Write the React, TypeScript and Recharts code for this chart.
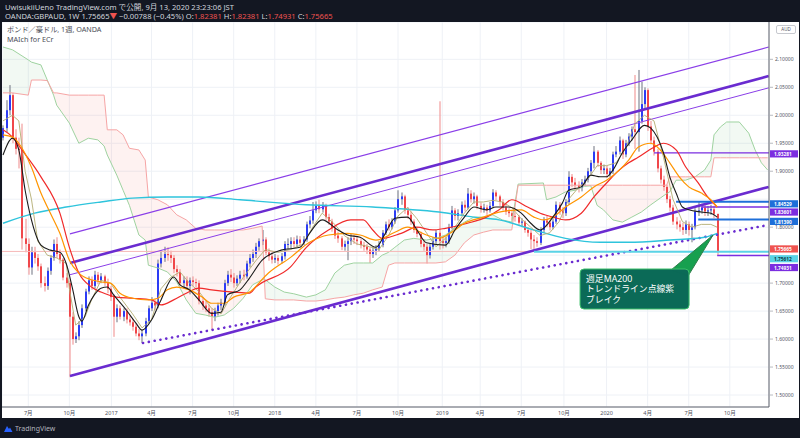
import React from 'react'
import {
  ComposedChart,
  Bar,
  Line,
  Area,
  XAxis,
  YAxis,
  CartesianGrid,
  ReferenceLine,
  ReferenceDot,
} from 'recharts'

// weekly GBPAUD candles, week 0 = 2016-05-09
const firstOpen = 1.96
const closes = [
  1.977, 2.009, 2.036, 1.96, 1.94, 1.938, 1.78, 1.77, 1.728, 1.755,
  1.745, 1.73, 1.7, 1.695, 1.722, 1.745, 1.77, 1.752, 1.742, 1.71,
  1.7, 1.64, 1.6, 1.605, 1.625, 1.655, 1.685, 1.705, 1.695, 1.715,
  1.705, 1.712, 1.7, 1.69, 1.675, 1.64, 1.655, 1.64, 1.65, 1.635,
  1.63, 1.622, 1.61, 1.605, 1.61, 1.632, 1.655, 1.665, 1.66, 1.735,
  1.745, 1.752, 1.75, 1.745, 1.725, 1.72, 1.7, 1.705, 1.695, 1.705,
  1.702, 1.7, 1.668, 1.66, 1.655, 1.648, 1.64, 1.65, 1.66, 1.665,
  1.7, 1.715, 1.71, 1.7, 1.708, 1.715, 1.712, 1.735, 1.745, 1.752,
  1.765, 1.775, 1.778, 1.755, 1.748, 1.742, 1.745, 1.74, 1.748, 1.77,
  1.77, 1.775, 1.77, 1.778, 1.772, 1.778, 1.805, 1.812, 1.83, 1.838,
  1.832, 1.838, 1.818, 1.81, 1.798, 1.785, 1.78, 1.765, 1.77, 1.775,
  1.78, 1.778, 1.775, 1.768, 1.765, 1.76, 1.752, 1.758, 1.762, 1.768,
  1.79, 1.805, 1.8, 1.81, 1.83, 1.85, 1.855, 1.83, 1.822, 1.81,
  1.795, 1.788, 1.77, 1.765, 1.75, 1.765, 1.775, 1.79, 1.775, 1.772,
  1.775, 1.8, 1.83, 1.82, 1.825, 1.84, 1.835, 1.86, 1.85, 1.855,
  1.838, 1.832, 1.835, 1.83, 1.838, 1.862, 1.855, 1.845, 1.835, 1.828,
  1.825, 1.82, 1.818, 1.808, 1.81, 1.795, 1.79, 1.778, 1.775, 1.772,
  1.795, 1.812, 1.808, 1.8, 1.81, 1.84, 1.83, 1.825, 1.845, 1.89,
  1.88, 1.875, 1.87, 1.88, 1.885, 1.9, 1.915, 1.935, 1.915, 1.902,
  1.905, 1.895, 1.9, 1.93, 1.935, 1.955, 1.93, 1.95, 1.962, 1.975,
  1.97, 1.99, 2.02, 2.045, 1.98, 1.955, 1.935, 1.905, 1.885, 1.872,
  1.85, 1.835, 1.81, 1.805, 1.8, 1.795, 1.805, 1.795, 1.8, 1.828,
  1.83, 1.835, 1.828, 1.83, 1.832, 1.82381, 1.75665,
]
const highs = [
  1.982, 2.027, 2.054, 2.04, 1.975, 1.96, 1.985, 1.815, 1.78, 1.765,
  1.765, 1.752, 1.735, 1.712, 1.728, 1.75, 1.778, 1.782, 1.76, 1.745,
  1.718, 1.705, 1.648, 1.612, 1.632, 1.662, 1.69, 1.712, 1.712, 1.722,
  1.72, 1.718, 1.715, 1.708, 1.695, 1.68, 1.662, 1.66, 1.655, 1.655,
  1.642, 1.636, 1.628, 1.618, 1.616, 1.638, 1.66, 1.675, 1.672, 1.742,
  1.759, 1.765, 1.764, 1.758, 1.75, 1.732, 1.725, 1.712, 1.712, 1.71,
  1.712, 1.708, 1.705, 1.675, 1.668, 1.662, 1.655, 1.656, 1.665, 1.672,
  1.706, 1.722, 1.725, 1.718, 1.714, 1.722, 1.724, 1.74, 1.752, 1.76,
  1.772, 1.78, 1.795, 1.782, 1.762, 1.755, 1.752, 1.75, 1.754, 1.775,
  1.78, 1.782, 1.782, 1.785, 1.784, 1.784, 1.81, 1.82, 1.845, 1.846,
  1.849, 1.845, 1.842, 1.824, 1.815, 1.802, 1.792, 1.784, 1.776, 1.782,
  1.788, 1.786, 1.784, 1.78, 1.774, 1.77, 1.764, 1.764, 1.768, 1.775,
  1.795, 1.81, 1.814, 1.816, 1.836, 1.866, 1.862, 1.858, 1.836, 1.828,
  1.814, 1.8, 1.792, 1.778, 1.77, 1.77, 1.782, 1.795, 2.025, 1.784,
  1.782, 1.806, 1.838, 1.834, 1.832, 1.846, 1.848, 1.87, 1.866, 1.862,
  1.858, 1.844, 1.842, 1.84, 1.845, 1.868, 1.866, 1.858, 1.85, 1.84,
  1.834, 1.83, 1.826, 1.822, 1.816, 1.812, 1.8, 1.795, 1.786, 1.782,
  1.8, 1.818, 1.82, 1.812, 1.816, 1.846, 1.845, 1.836, 1.85, 1.9,
  1.895, 1.888, 1.882, 1.886, 1.892, 1.906, 1.92, 1.945, 1.938, 1.918,
  1.912, 1.91, 1.906, 1.935, 1.945, 1.962, 1.958, 1.956, 1.968, 1.98,
  2.072, 2.081, 2.06, 2.05, 2.048, 1.99, 1.962, 1.94, 1.91, 1.892,
  1.876, 1.856, 1.84, 1.818, 1.812, 1.808, 1.812, 1.81, 1.806, 1.834,
  1.845, 1.842, 1.84, 1.838, 1.84, 1.838, 1.82381,
]
const lows = [
  1.955, 1.97, 2.0, 1.95, 1.93, 1.905, 1.76, 1.755, 1.715, 1.715,
  1.735, 1.722, 1.692, 1.685, 1.688, 1.715, 1.74, 1.745, 1.735, 1.705,
  1.692, 1.532, 1.59, 1.593, 1.598, 1.62, 1.65, 1.68, 1.688, 1.69,
  1.698, 1.7, 1.695, 1.682, 1.668, 1.604, 1.63, 1.635, 1.632, 1.628,
  1.624, 1.615, 1.605, 1.598, 1.593, 1.605, 1.628, 1.65, 1.652, 1.655,
  1.728, 1.738, 1.74, 1.736, 1.718, 1.712, 1.694, 1.69, 1.688, 1.68,
  1.695, 1.692, 1.662, 1.652, 1.648, 1.64, 1.616, 1.632, 1.642, 1.652,
  1.66, 1.695, 1.702, 1.692, 1.695, 1.7, 1.705, 1.708, 1.728, 1.738,
  1.745, 1.758, 1.768, 1.75, 1.74, 1.735, 1.736, 1.733, 1.735, 1.742,
  1.76, 1.762, 1.764, 1.765, 1.766, 1.768, 1.774, 1.798, 1.806, 1.825,
  1.825, 1.826, 1.812, 1.804, 1.792, 1.779, 1.772, 1.759, 1.758, 1.741,
  1.768, 1.77, 1.768, 1.762, 1.758, 1.752, 1.736, 1.745, 1.75, 1.756,
  1.764, 1.786, 1.794, 1.796, 1.806, 1.826, 1.84, 1.824, 1.815, 1.804,
  1.79, 1.782, 1.764, 1.758, 1.735, 1.744, 1.76, 1.77, 1.76, 1.762,
  1.764, 1.77, 1.796, 1.812, 1.812, 1.82, 1.828, 1.832, 1.844, 1.842,
  1.832, 1.826, 1.826, 1.822, 1.826, 1.834, 1.848, 1.838, 1.83, 1.822,
  1.818, 1.812, 1.81, 1.802, 1.8, 1.79, 1.783, 1.761, 1.756, 1.765,
  1.768, 1.79, 1.8, 1.794, 1.796, 1.806, 1.822, 1.816, 1.82, 1.84,
  1.872, 1.866, 1.862, 1.864, 1.874, 1.88, 1.895, 1.905, 1.908, 1.895,
  1.895, 1.888, 1.89, 1.895, 1.925, 1.93, 1.922, 1.925, 1.945, 1.955,
  1.94, 1.935, 1.985, 2.01, 1.972, 1.948, 1.928, 1.898, 1.878, 1.865,
  1.843, 1.828, 1.804, 1.796, 1.792, 1.786, 1.788, 1.785, 1.773, 1.796,
  1.82, 1.824, 1.82, 1.82, 1.822, 1.816, 1.74931,
]

// time axis
const tickWeeks = [8, 21, 34.3, 47, 60, 73, 86, 99, 112, 125, 139, 151, 164, 177.5, 191, 204, 217, 230]
const tickLabels = ['7月', '10月', '2017', '4月', '7月', '10月', '2018', '4月', '7月', '10月', '2019', '4月', '7月', '10月', '2020', '4月', '7月', '10月']
const priceTicks = [1.5, 1.55, 1.6, 1.65, 1.7, 1.75, 1.8, 1.85, 1.9, 1.95, 2.0, 2.05, 2.1]

// moving averages: [week, price]
const blackMA = [
  [0, 1.929], [3, 1.959], [5, 1.938], [7, 1.866], [9, 1.813], [12, 1.768], [15, 1.759], [18, 1.755],
  [20, 1.735], [22, 1.69], [24, 1.64], [25, 1.632], [27, 1.66], [29, 1.68], [31, 1.691], [33, 1.693],
  [35, 1.679], [39, 1.652], [42, 1.629], [44, 1.616], [47, 1.634], [50, 1.67], [54, 1.711], [56, 1.697],
  [59, 1.688], [62, 1.67], [66, 1.646], [69, 1.648], [71, 1.679], [75, 1.688], [78, 1.709], [82, 1.741],
  [88, 1.759], [94, 1.764], [97, 1.789], [101, 1.813], [106, 1.795], [109, 1.786], [113, 1.782], [118, 1.764],
  [121, 1.789], [124, 1.816], [128, 1.818], [131, 1.795], [134, 1.772], [140, 1.768], [143, 1.795], [146, 1.818],
  [149, 1.836], [153, 1.831], [156, 1.836], [160, 1.836], [164, 1.825], [167, 1.807], [170, 1.795], [174, 1.818],
  [177, 1.843], [179, 1.866], [183, 1.872], [186, 1.893], [189, 1.89], [191, 1.89], [193, 1.902], [196, 1.933],
  [199, 1.956], [203, 1.982], [205, 1.977], [207, 1.961], [209, 1.933], [211, 1.89], [213, 1.861], [215, 1.836],
  [217, 1.831], [221, 1.827], [224, 1.825], [226, 1.818],
]
const orangeMA = [
  [0, 1.965], [3, 1.961], [5, 1.95], [9, 1.907], [12, 1.861], [15, 1.825], [18, 1.789], [21, 1.741],
  [24, 1.718], [28, 1.706], [31, 1.702], [34, 1.7], [37, 1.682], [41, 1.673], [46, 1.67], [49, 1.673],
  [52, 1.688], [55, 1.693], [59, 1.688], [63, 1.675], [66, 1.664], [70, 1.664], [73, 1.675], [78, 1.684],
  [84, 1.718], [91, 1.746], [97, 1.773], [103, 1.786], [109, 1.789], [113, 1.786], [118, 1.777], [124, 1.791],
  [128, 1.8], [134, 1.786], [138, 1.78], [142, 1.791], [146, 1.807], [152, 1.818], [157, 1.827], [164, 1.831],
  [168, 1.818], [171, 1.813], [174, 1.818], [178, 1.836], [183, 1.854], [187, 1.872], [191, 1.884], [195, 1.902],
  [198, 1.92], [201, 1.943], [205, 1.95], [208, 1.938], [211, 1.915], [214, 1.89], [217, 1.872], [221, 1.861],
  [224, 1.849], [226, 1.836],
]
const redMA = [
  [0, 1.974], [3, 1.961], [6, 1.938], [12, 1.89], [18, 1.825], [21, 1.764], [24, 1.718], [28, 1.693],
  [31, 1.684], [36, 1.675], [41, 1.673], [47, 1.67], [50, 1.661], [54, 1.67], [58, 1.682], [62, 1.691],
  [66, 1.688], [73, 1.684], [78, 1.682], [80, 1.693], [91, 1.729], [96, 1.764], [103, 1.795], [110, 1.813],
  [114, 1.813], [117, 1.795], [120, 1.78], [126, 1.789], [131, 1.8], [136, 1.795], [140, 1.798], [147, 1.807],
  [153, 1.818], [157, 1.831], [161, 1.849], [166, 1.836], [170, 1.825], [174, 1.818], [178, 1.813], [183, 1.825],
  [187, 1.854], [191, 1.879], [195, 1.902], [198, 1.915], [201, 1.925], [206, 1.943], [209, 1.95], [213, 1.938],
  [216, 1.908], [220, 1.879], [223, 1.854], [226, 1.836],
]
const oliveLine = [
  [0, 1.99], [3, 2.0], [5, 1.99], [7, 1.9], [9, 1.85], [11, 1.775], [14, 1.75], [17, 1.745], [20, 1.735],
  [21, 1.69], [23, 1.625], [26, 1.64], [28, 1.67], [31, 1.705], [34, 1.7], [37, 1.675], [41, 1.645], [44, 1.62],
  [47, 1.635], [50, 1.69], [53, 1.71], [56, 1.72], [59, 1.7], [62, 1.685], [66, 1.655], [69, 1.645], [72, 1.675],
  [76, 1.71], [80, 1.74], [83, 1.76], [87, 1.755], [91, 1.76], [95, 1.77], [98, 1.8], [101, 1.825], [105, 1.805],
  [108, 1.785], [112, 1.77], [116, 1.765], [119, 1.76], [122, 1.785], [125, 1.82], [128, 1.835], [131, 1.815],
  [134, 1.79], [137, 1.765], [140, 1.78], [143, 1.8], [146, 1.825], [149, 1.845], [152, 1.845], [155, 1.848],
  [158, 1.845], [161, 1.835], [164, 1.815], [167, 1.8], [170, 1.785], [173, 1.79], [176, 1.81], [179, 1.85],
  [182, 1.87], [185, 1.885], [188, 1.91], [191, 1.91], [194, 1.915], [197, 1.94], [200, 1.985], [203, 2.0],
  [206, 1.99], [209, 1.925], [212, 1.85], [215, 1.81], [218, 1.8], [221, 1.805], [224, 1.805], [226, 1.8],
]
const ma200 = [
  [0, 1.807], [10, 1.825], [20, 1.836], [31, 1.845], [41, 1.852], [52, 1.854], [62, 1.854], [75, 1.849],
  [96, 1.84], [117, 1.836], [138, 1.827], [149, 1.818], [157, 1.813], [168, 1.795], [178, 1.78], [189, 1.773],
  [198, 1.773], [211, 1.777], [222, 1.782], [226, 1.789],
]

// ichimoku cloud (leading spans)
const cloudWeeks = [
  0, 3, 8, 9, 12, 14, 16, 17, 21, 24, 27, 30, 32, 33, 36, 38, 40, 43, 45, 46, 49, 52, 55, 58, 61, 64, 67, 70,
  73, 76, 79, 82, 83, 86, 89, 92, 96, 99, 102, 105, 108, 111, 114, 117, 120, 122, 124, 127, 130, 134, 137, 140,
  143, 146, 149, 152, 155, 158, 161, 163, 171, 172, 175, 178, 181, 184, 186, 188, 190, 193, 196, 199, 202, 205,
  208, 210, 211, 213, 216, 219, 222, 224, 225, 227, 229, 233, 236, 238, 240, 242,
]
const spanA = [
  2.122, 2.117, 2.099, 2.095, 2.09, 2.063, 2.036, 2.018, 1.986, 1.95, 1.959, 1.956, 1.945, 1.929, 1.893, 1.866,
  1.839, 1.786, 1.777, 1.732, 1.727, 1.72, 1.702, 1.67, 1.646, 1.643, 1.639, 1.643, 1.655, 1.673, 1.697, 1.706,
  1.706, 1.693, 1.684, 1.681, 1.675, 1.679, 1.688, 1.718, 1.732, 1.736, 1.736, 1.736, 1.75, 1.755, 1.764, 1.777,
  1.78, 1.777, 1.78, 1.786, 1.798, 1.809, 1.818, 1.818, 1.822, 1.813, 1.809, 1.877, 1.879, 1.849, 1.854, 1.863,
  1.866, 1.873, 1.874, 1.839, 1.831, 1.813, 1.809, 1.818, 1.827, 1.84, 1.852, 1.86, 1.863, 1.884, 1.884, 1.89,
  1.902, 1.92, 1.965, 1.979, 1.988, 1.988, 1.968, 1.938, 1.915, 1.902,
]
const spanB = [
  2.04, 2.04, 2.036, 2.063, 2.063, 2.062, 2.04, 2.04, 2.036, 2.036, 2.036, 2.036, 2.036, 1.974, 1.974, 1.965,
  1.941, 1.938, 1.92, 1.854, 1.849, 1.84, 1.822, 1.813, 1.798, 1.795, 1.795, 1.795, 1.795, 1.795, 1.798, 1.802,
  1.672, 1.67, 1.67, 1.67, 1.668, 1.668, 1.67, 1.673, 1.675, 1.679, 1.682, 1.688, 1.693, 1.732, 1.736, 1.736,
  1.736, 1.736, 1.736, 1.738, 1.75, 1.772, 1.786, 1.791, 1.795, 1.795, 1.795, 1.875, 1.875, 1.875, 1.875, 1.875,
  1.875, 1.875, 1.875, 1.875, 1.875, 1.875, 1.875, 1.875, 1.875, 1.875, 1.875, 1.875, 1.89, 1.89, 1.89, 1.89,
  1.89, 1.89, 1.924, 1.924, 1.924, 1.924, 1.924, 1.924, 1.924, 1.924,
]

// drawn trend lines: [week, price] pairs
const channelUpper = [[21.2, 1.788], [242.3, 2.122]]
const channelMid = [[21.2, 1.736], [242.3, 2.07]]
const channelLow = [[21.2, 1.715], [242.3, 2.049]]
const supportLine = [[21.2, 1.534], [242.3, 1.872]]
const dottedLine = [[44.3, 1.593], [242.3, 1.804]]

// horizontal levels
const levelPrices = [1.93281, 1.84529, 1.83601, 1.8139, 1.75612, 1.74931]
const levelStarts = [206, 213, 221, 220, 168, 226]
const levelColors = ['#7b2ee0', '#1e6fd9', '#7b2ee0', '#1e6fd9', '#5ad3e6', '#7b2ee0']
const tagOffsets = [1, 2, 5, 2, 7, 12]

const lastClose = closes[closes.length - 1]
const END = 242.4

const candles = closes.map((c, i) => ({
  week: i,
  open: i === 0 ? firstOpen : closes[i - 1],
  close: c,
  high: highs[i],
  low: lows[i],
  range: [lows[i], highs[i]],
}))

const toPts = (arr: number[][]) => arr.map(([week, v]) => ({ week, v }))

// split the cloud into green / red runs
const cloudRuns: { up: boolean; points: any[] }[] = []
cloudWeeks.forEach((w, k) => {
  const up = spanA[k] >= spanB[k]
  const pt = { week: w, band: [spanB[k], spanA[k]] }
  const last = cloudRuns[cloudRuns.length - 1]
  if (!last || last.up !== up) {
    const prev = k > 0 ? [{ week: cloudWeeks[k - 1], band: [spanB[k - 1], spanA[k - 1]] }] : []
    cloudRuns.push({ up, points: [...prev, pt] })
  } else last.points.push(pt)
})

// tick labels hidden behind a price tag
const taggedPrices = [...levelPrices, lastClose]
const hiddenTick = (v: number) => taggedPrices.some((p) => Math.abs(p - v) < 0.01)

const FONT = '"Noto Sans", "Noto Sans CJK JP", sans-serif'

function Candle(props: any) {
  const { x, y, width, height, payload } = props
  if (!payload || payload.high == null) return null
  const top = Math.min(y, y + height)
  const bot = Math.max(y, y + height)
  const span = payload.high - payload.low
  const k = span > 0 ? (bot - top) / span : 0
  const py = (v: number) => top + (payload.high - v) * k
  const up = payload.close >= payload.open
  const body = up ? '#2c3cf5' : '#f0474a'
  const wick = up ? '#6f7280' : '#f08a8a'
  const left = Math.round(x + width / 2 - 1)
  const bTop = py(Math.max(payload.open, payload.close))
  const bBot = py(Math.min(payload.open, payload.close))
  return (
    <g>
      <rect x={left + 0.5} y={top} width={1} height={Math.max(1, bot - top)} fill={wick} />
      <rect x={left} y={bTop} width={2} height={Math.max(1, bBot - bTop)} fill={body} />
    </g>
  )
}

function TimeTick({ x, y, payload }: any) {
  const i = tickWeeks.indexOf(payload.value)
  return (
    <text x={x} y={y + 6} textAnchor="middle" dominantBaseline="central" fontSize={5.5} fill="#50535e" fontFamily={FONT}>
      {tickLabels[i]}
    </text>
  )
}

function PriceTick({ x, y, payload }: any) {
  if (hiddenTick(payload.value)) return <g />
  return (
    <g>
      <line x1={x + 1} x2={x + 4} y1={y} y2={y} stroke="#8a8d96" strokeWidth={0.6} />
      <text x={x + 6} y={y} dominantBaseline="central" fontSize={5} fill="#50535e" fontFamily={FONT}>
        {payload.value.toFixed(5)}
      </text>
    </g>
  )
}

function PriceTag({ cx, cy, fill, textColor, dy, text }: any) {
  if (cx == null) return null
  return (
    <g>
      <rect x={cx + 1} y={cy + dy - 3.6} width={28} height={7.2} fill={fill} />
      <text x={cx + 5} y={cy + dy + 0.2} dominantBaseline="central" fontSize={4.8} fontWeight={700} fill={textColor} fontFamily={FONT}>
        {text}
      </text>
    </g>
  )
}

function Callout({ cx, cy }: any) {
  if (cx == null) return null
  const bx = cx - 133
  const by = cy + 34
  const wedge = `${cx - 42},${by + 1} ${cx - 25},${by + 7} ${cx},${cy}`
  return (
    <g fontFamily={FONT}>
      <polygon points={wedge} fill="#17a04f" stroke="#2f7d4a" strokeWidth={1} />
      <rect x={bx} y={by} width={109} height={40} rx={4} fill="#0b6a57" stroke="#3cc06b" strokeWidth={1} />
      <polygon points={`${cx - 41},${by + 1.5} ${cx - 25.5},${by + 7} ${cx - 28},${by + 5}`} fill="#0b6a57" />
      <text x={bx + 6} y={by + 9.5} dominantBaseline="central" fontSize={8.8} fill="#ffffff">週足MA200</text>
      <text x={bx + 6} y={by + 20} dominantBaseline="central" fontSize={8.8} fill="#ffffff">トレンドライン点線紫</text>
      <text x={bx + 6} y={by + 30.5} dominantBaseline="central" fontSize={8.8} fill="#ffffff">ブレイク</text>
    </g>
  )
}

const seg = (pts: number[][]) => [
  { x: pts[0][0], y: pts[0][1] },
  { x: pts[1][0], y: pts[1][1] },
]

export default function App() {
  const tags = levelPrices.map((p, i) => ({
    price: p,
    fill: levelColors[i],
    textColor: i === 4 ? '#0d3a44' : '#ffffff',
    dy: tagOffsets[i],
  }))
  return (
    <div
      style={{
        position: 'fixed',
        left: 0,
        top: 0,
        width: 800,
        height: 438,
        background: '#131722',
        overflow: 'hidden',
        fontFamily: FONT,
      }}
    >
      {/* header */}
      <div style={{ position: 'absolute', left: 5, top: 1, fontSize: 7.6, color: '#d1d4dc', whiteSpace: 'nowrap' }}>
        UwisukiiUeno TradingView.com で公開, 9月 13, 2020 23:23:06 JST
      </div>
      <div style={{ position: 'absolute', left: 5, top: 10, fontSize: 7.6, color: '#d1d4dc', whiteSpace: 'nowrap' }}>
        OANDA:GBPAUD, 1W 1.75665<span style={{ color: '#ef5350' }}>▼</span> −0.00788 (−0.45%) O:
        <span style={{ color: '#ef5350' }}>1.82381</span> H:<span style={{ color: '#ef5350' }}>1.82381</span> L:
        <span style={{ color: '#ef5350' }}>1.74931</span> C:<span style={{ color: '#ef5350' }}>1.75665</span>
      </div>

      {/* chart panel */}
      <div style={{ position: 'absolute', left: 2, top: 22, width: 797, height: 396, background: '#ffffff' }}>
        <ComposedChart width={797} height={396} data={candles} margin={{ top: 0, right: 0, bottom: 0, left: 0 }}>
          <CartesianGrid stroke="#eef1f6" />
          <XAxis
            dataKey="week"
            type="number"
            domain={[-0.32, END]}
            allowDataOverflow
            ticks={tickWeeks}
            interval={0}
            tick={<TimeTick />}
            tickSize={0}
            tickMargin={0}
            tickLine={false}
            height={11}
            axisLine={{ stroke: '#5d606b' }}
          />
          <YAxis
            orientation="right"
            type="number"
            domain={[1.4786, 2.1667]}
            allowDataOverflow
            ticks={priceTicks}
            interval={0}
            tick={<PriceTick />}
            tickSize={0}
            tickMargin={0}
            tickLine={false}
            width={30}
            axisLine={{ stroke: '#5d606b' }}
          />

          {/* ichimoku cloud */}
          {cloudRuns.map((r, i) => (
            <Area
              key={'cloud' + i}
              data={r.points}
              dataKey="band"
              type="linear"
              stroke="none"
              fill={r.up ? '#4caf50' : '#f44336'}
              fillOpacity={0.07}
              isAnimationActive={false}
            />
          ))}
          <Line
            data={cloudWeeks.map((w, k) => ({ week: w, v: spanA[k] }))}
            dataKey="v"
            type="linear"
            stroke="#9fd3a0"
            strokeWidth={1}
            dot={false}
            isAnimationActive={false}
          />
          <Line
            data={cloudWeeks.map((w, k) => ({ week: w, v: spanB[k] }))}
            dataKey="v"
            type="linear"
            stroke="#f6a5a5"
            strokeWidth={1}
            dot={false}
            isAnimationActive={false}
          />

          <ReferenceLine y={lastClose} stroke="#f6b8b8" strokeWidth={1} />

          {/* drawn lines */}
          <ReferenceLine segment={seg(channelUpper)} stroke="#8a3ee8" strokeWidth={1.2} ifOverflow="visible" />
          <ReferenceLine segment={seg(channelMid)} stroke="#6a2bd0" strokeWidth={2.6} ifOverflow="visible" />
          <ReferenceLine segment={seg(channelLow)} stroke="#8a3ee8" strokeWidth={1} ifOverflow="visible" />
          <ReferenceLine segment={seg(supportLine)} stroke="#6a2bd0" strokeWidth={2.6} ifOverflow="visible" />
          <ReferenceLine
            segment={seg(dottedLine)}
            stroke="#6a2bd0"
            strokeWidth={2.6}
            strokeDasharray="0.1 5.8"
            strokeLinecap="round"
            ifOverflow="visible"
          />
          {levelPrices.map((p, i) => (
            <ReferenceLine
              key={'lv' + i}
              segment={[
                { x: levelStarts[i], y: p },
                { x: END, y: p },
              ]}
              stroke={levelColors[i]}
              strokeWidth={i === 1 || i === 3 || i === 4 ? 2 : 1.4}
              ifOverflow="visible"
            />
          ))}

          {/* moving averages */}
          <Line data={toPts(ma200)} dataKey="v" type="monotone" stroke="#2ec4dc" strokeWidth={1.4} dot={false} isAnimationActive={false} />
          <Line data={toPts(oliveLine)} dataKey="v" type="linear" stroke="#b3ad72" strokeWidth={0.9} dot={false} isAnimationActive={false} />
          <Line data={toPts(redMA)} dataKey="v" type="monotone" stroke="#f02a2a" strokeWidth={1.2} dot={false} isAnimationActive={false} />
          <Line data={toPts(orangeMA)} dataKey="v" type="monotone" stroke="#ff9500" strokeWidth={1.2} dot={false} isAnimationActive={false} />
          <Line data={toPts(blackMA)} dataKey="v" type="monotone" stroke="#1b1b1b" strokeWidth={1.1} dot={false} isAnimationActive={false} />

          <Bar dataKey="range" barSize={2} shape={<Candle />} isAnimationActive={false} />

          <ReferenceDot x={224.7} y={1.786} ifOverflow="visible" shape={(p: any) => <Callout {...p} />} />

          {tags.map((t, i) => (
            <ReferenceDot
              key={'tag' + i}
              x={END}
              y={t.price}
              ifOverflow="visible"
              shape={(p: any) => <PriceTag {...p} fill={t.fill} textColor={t.textColor} dy={t.dy} text={t.price.toFixed(5)} />}
            />
          ))}
          <ReferenceDot
            x={END}
            y={lastClose}
            ifOverflow="visible"
            shape={(p: any) => <PriceTag {...p} fill="#ef5350" textColor="#ffffff" dy={-2.5} text={lastClose.toFixed(5)} />}
          />
        </ComposedChart>

        {/* in-chart legend */}
        <div style={{ position: 'absolute', left: 5, top: 2, fontSize: 7.2, color: '#4a4d56', lineHeight: '10px' }}>
          <div>ポンド／豪ドル, 1週, OANDA</div>
          <div>MAIch for ECr</div>
        </div>
        <div
          style={{
            position: 'absolute',
            left: 774,
            top: 3,
            width: 18,
            height: 7,
            border: '1px solid #c7c9cf',
            borderRadius: 2,
            fontSize: 4.5,
            lineHeight: '7px',
            textAlign: 'center',
            color: '#50535e',
            background: '#fff',
          }}
        >
          AUD
        </div>
      </div>

      {/* footer logo */}
      <div style={{ position: 'absolute', left: 3, top: 424, display: 'flex', alignItems: 'center', gap: 2 }}>
        <svg width={10} height={9} viewBox="0 0 10 9">
          <path d="M1 8 L4 2 L6 5 L7 3.5 L9.5 8 Z" fill="#2962ff" />
        </svg>
        <span style={{ fontSize: 7, color: '#b2b5be' }}>TradingView</span>
      </div>
    </div>
  )
}
